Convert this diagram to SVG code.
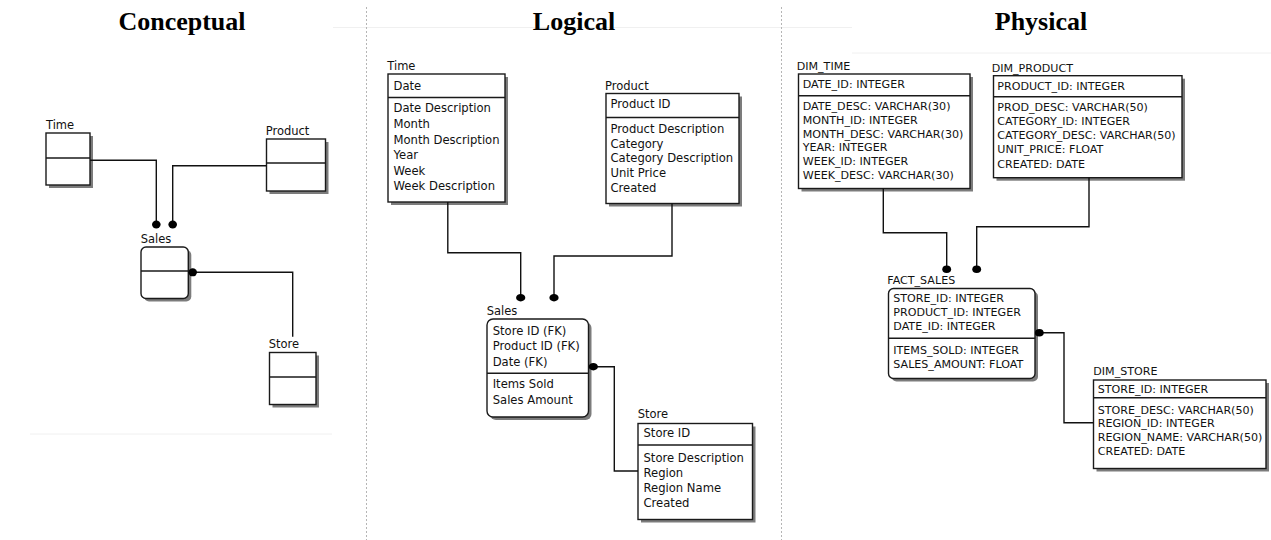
<svg xmlns="http://www.w3.org/2000/svg" width="1271" height="540" viewBox="0 0 1271 540">
  <style>
    .title { font-family: "Liberation Serif", "Times New Roman", serif; font-weight: bold; font-size: 26px; fill: #000; text-anchor: middle; }
    .lbl { font-family: "DejaVu Sans", Verdana, sans-serif; font-size: 11.5px; fill: #111; }
    .txt { font-family: "DejaVu Sans", Verdana, sans-serif; font-size: 11.6px; fill: #111; }
    .ptxt { font-family: "DejaVu Sans", Verdana, sans-serif; font-size: 11.1px; fill: #111; }
    .box { fill: #fff; stroke: #1a1a1a; stroke-width: 1.4; }
    .shadow { fill: #7c7c7c; }
    .div { stroke: #1a1a1a; stroke-width: 1.4; }
    .conn { fill: none; stroke: #111; stroke-width: 1.4; }
    .dot { fill: #000; }
    .sep { stroke: #b5b5b5; stroke-width: 1; stroke-dasharray: 2 2; }
    .faint { stroke: #f0f0f0; stroke-width: 1; }
  </style>

  <rect width="1271" height="540" fill="#fff"/>

  <!-- faint panel edges -->
  <g id="panel-edges">
    <line class="faint" x1="333" y1="27.5" x2="852" y2="27.5"/>
    <line class="faint" x1="852" y1="53" x2="1271" y2="53"/>
    <line class="faint" x1="30" y1="434" x2="332" y2="434"/>
  </g>

  <!-- column separators -->
  <g id="separators">
    <line class="sep" x1="366.5" y1="7" x2="366.5" y2="540"/>
    <line class="sep" x1="781.5" y1="7" x2="781.5" y2="540"/>
  </g>

  <!-- column titles -->
  <g id="titles">
    <text class="title" x="182" y="29.5">Conceptual</text>
    <text class="title" x="574" y="29.5">Logical</text>
    <text class="title" x="1041" y="29.5">Physical</text>
  </g>

  <!-- ===== Conceptual model ===== -->
  <g id="c-time">
    <text class="lbl" x="46" y="129">Time</text>
    <rect class="shadow" x="49" y="136" width="44" height="52"/>
    <rect class="box" x="46" y="133" width="44" height="52"/>
    <line class="div" x1="46" y1="158" x2="90" y2="158"/>
  </g>
  <g id="c-product">
    <text class="lbl" x="265.7" y="135">Product</text>
    <rect class="shadow" x="269.5" y="142" width="59" height="52"/>
    <rect class="box" x="266.5" y="139" width="59" height="52"/>
    <line class="div" x1="266.5" y1="163" x2="325.5" y2="163"/>
  </g>
  <g id="c-sales">
    <text class="lbl" x="140.7" y="242.7">Sales</text>
    <rect class="shadow" x="144" y="250" width="47.3" height="51.5" rx="5"/>
    <rect class="box" x="141" y="247" width="47.3" height="51.5" rx="5"/>
    <line class="div" x1="141" y1="271" x2="188.3" y2="271"/>
  </g>
  <g id="c-store">
    <text class="lbl" x="268.7" y="348">Store</text>
    <rect class="shadow" x="272.5" y="355.5" width="46.5" height="52"/>
    <rect class="box" x="269.5" y="352.5" width="46.5" height="52"/>
    <line class="div" x1="269.5" y1="377" x2="316" y2="377"/>
  </g>

  <!-- ===== Logical model ===== -->
  <g id="l-time">
    <text class="lbl" x="387.3" y="70">Time</text>
    <rect class="shadow" x="391" y="77" width="117" height="128"/>
    <rect class="box" x="388" y="74" width="117" height="128"/>
    <line class="div" x1="388" y1="97.5" x2="505" y2="97.5"/>
    <text class="txt" x="393.5" y="90">Date</text>
    <text class="txt" x="393.5" y="112.3">Date Description</text>
    <text class="txt" x="393.5" y="128">Month</text>
    <text class="txt" x="393.5" y="143.5">Month Description</text>
    <text class="txt" x="393.5" y="159">Year</text>
    <text class="txt" x="393.5" y="174.5">Week</text>
    <text class="txt" x="393.5" y="190">Week Description</text>
  </g>
  <g id="l-product">
    <text class="lbl" x="605" y="89.5">Product</text>
    <rect class="shadow" x="609" y="96.5" width="133" height="110"/>
    <rect class="box" x="606" y="93.5" width="133" height="110"/>
    <line class="div" x1="606" y1="117.5" x2="739" y2="117.5"/>
    <text class="txt" x="610.5" y="108.3">Product ID</text>
    <text class="txt" x="610.5" y="132.7">Product Description</text>
    <text class="txt" x="610.5" y="147.5">Category</text>
    <text class="txt" x="610.5" y="162.3">Category Description</text>
    <text class="txt" x="610.5" y="177">Unit Price</text>
    <text class="txt" x="610.5" y="191.7">Created</text>
  </g>
  <g id="l-sales">
    <text class="lbl" x="486.7" y="315">Sales</text>
    <rect class="shadow" x="490" y="322" width="101.5" height="98" rx="6"/>
    <rect class="box" x="487" y="319" width="101.5" height="98" rx="6"/>
    <line class="div" x1="487" y1="373.3" x2="588.5" y2="373.3"/>
    <text class="txt" x="492.7" y="335">Store ID (FK)</text>
    <text class="txt" x="492.7" y="350">Product ID (FK)</text>
    <text class="txt" x="492.7" y="365.7">Date (FK)</text>
    <text class="txt" x="492.7" y="388.3">Items Sold</text>
    <text class="txt" x="492.7" y="404">Sales Amount</text>
  </g>
  <g id="l-store">
    <text class="lbl" x="637.7" y="418.3">Store</text>
    <rect class="shadow" x="641" y="426.5" width="114.5" height="96"/>
    <rect class="box" x="638" y="423.5" width="114.5" height="96"/>
    <line class="div" x1="638" y1="445" x2="752.5" y2="445"/>
    <text class="txt" x="643.5" y="437.3">Store ID</text>
    <text class="txt" x="643.5" y="462.3">Store Description</text>
    <text class="txt" x="643.5" y="477.3">Region</text>
    <text class="txt" x="643.5" y="492.3">Region Name</text>
    <text class="txt" x="643.5" y="507.3">Created</text>
  </g>

  <!-- ===== Physical model ===== -->
  <g id="p-dim-time">
    <text class="ptxt" x="796.7" y="70">DIM_TIME</text>
    <rect class="shadow" x="801.5" y="77" width="171.5" height="114.5"/>
    <rect class="box" x="798.5" y="74" width="171.5" height="114.5"/>
    <line class="div" x1="798.5" y1="95.7" x2="970" y2="95.7"/>
    <text class="ptxt" x="802.7" y="88.3">DATE_ID: INTEGER</text>
    <text class="ptxt" x="802.7" y="110">DATE_DESC: VARCHAR(30)</text>
    <text class="ptxt" x="802.7" y="123.8">MONTH_ID: INTEGER</text>
    <text class="ptxt" x="802.7" y="137.6">MONTH_DESC: VARCHAR(30)</text>
    <text class="ptxt" x="802.7" y="151.4">YEAR: INTEGER</text>
    <text class="ptxt" x="802.7" y="165.2">WEEK_ID: INTEGER</text>
    <text class="ptxt" x="802.7" y="179">WEEK_DESC: VARCHAR(30)</text>
  </g>
  <g id="p-dim-product">
    <text class="ptxt" x="991.7" y="71.7">DIM_PRODUCT</text>
    <rect class="shadow" x="996.5" y="78.7" width="188.5" height="102"/>
    <rect class="box" x="993.5" y="75.7" width="188.5" height="102"/>
    <line class="div" x1="993.5" y1="96.7" x2="1182" y2="96.7"/>
    <text class="ptxt" x="997.3" y="90">PRODUCT_ID: INTEGER</text>
    <text class="ptxt" x="997.3" y="111">PROD_DESC: VARCHAR(50)</text>
    <text class="ptxt" x="997.3" y="125">CATEGORY_ID: INTEGER</text>
    <text class="ptxt" x="997.3" y="139">CATEGORY_DESC: VARCHAR(50)</text>
    <text class="ptxt" x="997.3" y="153.3">UNIT_PRICE: FLOAT</text>
    <text class="ptxt" x="997.3" y="167.7">CREATED: DATE</text>
  </g>
  <g id="p-fact-sales">
    <text class="ptxt" x="887.3" y="284">FACT_SALES</text>
    <rect class="shadow" x="891.5" y="291.5" width="146.5" height="90" rx="5"/>
    <rect class="box" x="888.5" y="288.5" width="146.5" height="90" rx="5"/>
    <line class="div" x1="888.5" y1="338.3" x2="1035" y2="338.3"/>
    <text class="ptxt" x="893.3" y="302">STORE_ID: INTEGER</text>
    <text class="ptxt" x="893.3" y="316">PRODUCT_ID: INTEGER</text>
    <text class="ptxt" x="893.3" y="330">DATE_ID: INTEGER</text>
    <text class="ptxt" x="893.3" y="354.3">ITEMS_SOLD: INTEGER</text>
    <text class="ptxt" x="893.3" y="368">SALES_AMOUNT: FLOAT</text>
  </g>
  <g id="p-dim-store">
    <text class="ptxt" x="1093.3" y="375">DIM_STORE</text>
    <rect class="shadow" x="1096.5" y="383" width="172.5" height="88.5"/>
    <rect class="box" x="1093.5" y="380" width="172.5" height="88.5"/>
    <line class="div" x1="1093.5" y1="397.7" x2="1266" y2="397.7"/>
    <text class="ptxt" x="1097.7" y="393.3">STORE_ID: INTEGER</text>
    <text class="ptxt" x="1097.7" y="414">STORE_DESC: VARCHAR(50)</text>
    <text class="ptxt" x="1097.7" y="427.3">REGION_ID: INTEGER</text>
    <text class="ptxt" x="1097.7" y="440.7">REGION_NAME: VARCHAR(50)</text>
    <text class="ptxt" x="1097.7" y="455">CREATED: DATE</text>
  </g>

  <!-- relationships: line plus filled "many" dot at the child end -->
  <g id="connectors">
    <!-- conceptual -->
    <path class="conn" d="M90 160.3 H156.3 V224.5"/>
    <ellipse class="dot" cx="156.3" cy="224.5" rx="4.3" ry="4"/>
    <path class="conn" d="M266.5 165.7 H172.7 V224.5"/>
    <ellipse class="dot" cx="172.7" cy="224.5" rx="4.3" ry="4"/>
    <path class="conn" d="M192.7 272.3 H292.7 V336.7"/>
    <ellipse class="dot" cx="192.7" cy="272.3" rx="4.3" ry="4"/>

    <!-- logical -->
    <path class="conn" d="M447.8 202 V252.7 H520.7 V297.7"/>
    <ellipse class="dot" cx="520.7" cy="297.7" rx="4.6" ry="3.7"/>
    <path class="conn" d="M672 203.5 V256 H554 V297.7"/>
    <ellipse class="dot" cx="554" cy="297.7" rx="4.6" ry="3.7"/>
    <path class="conn" d="M593.3 366.7 H614.3 V471 H638"/>
    <ellipse class="dot" cx="593.3" cy="366.7" rx="4.6" ry="3.7"/>

    <!-- physical -->
    <path class="conn" d="M883.3 188.5 V232.7 H946.7 V269.3"/>
    <ellipse class="dot" cx="946.7" cy="269.3" rx="4.4" ry="3.8"/>
    <path class="conn" d="M1089 177.7 V226.7 H976.7 V269.3"/>
    <ellipse class="dot" cx="976.7" cy="269.3" rx="4.4" ry="3.8"/>
    <path class="conn" d="M1039.3 332.7 H1064 V422.7 H1093.5"/>
    <ellipse class="dot" cx="1039.3" cy="332.7" rx="4.4" ry="3.8"/>
  </g>
</svg>
